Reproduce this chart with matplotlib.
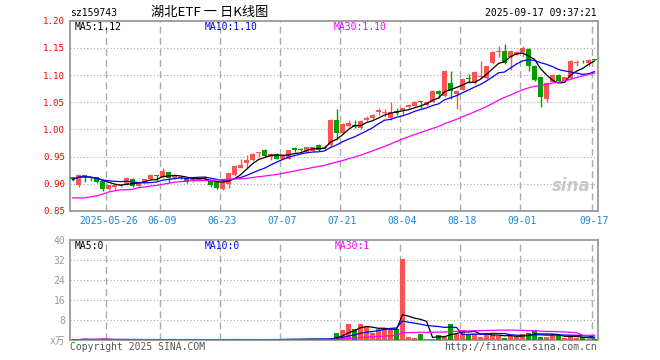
import numpy as np
import pandas as pd
import matplotlib
matplotlib.use("Agg")
import matplotlib.pyplot as plt

# -------------------------
# Data
# -------------------------
dates = [d for d in pd.bdate_range("2025-05-16", "2025-09-17") if d != pd.Timestamp("2025-06-02")]

opens = [0.912, 0.898, 0.916, 0.911, 0.912, 0.905, 0.891, 0.894, 0.897, 0.899,
         0.909, 0.896, 0.904, 0.908, 0.915, 0.912, 0.921, 0.910, 0.913, 0.911,
         0.905, 0.907, 0.908, 0.907, 0.903, 0.891, 0.900, 0.916, 0.930, 0.939,
         0.943, 0.957, 0.963, 0.949, 0.955, 0.946, 0.946, 0.966, 0.962, 0.958,
         0.961, 0.972, 0.965, 0.972, 1.018, 0.993, 1.007, 1.008, 1.002, 1.017,
         1.021, 1.033, 1.030, 1.021, 1.034, 1.036, 1.041, 1.044, 1.051, 1.045,
         1.051, 1.071, 1.061, 1.085, 1.066, 1.073, 1.094, 1.085, 1.096, 1.094,
         1.122, 1.142, 1.145, 1.134, 1.137, 1.142, 1.148, 1.116, 1.096, 1.056,
         1.088, 1.101, 1.090, 1.094, 1.122, 1.125, 1.122, 1.128]
highs = [0.913, 0.918, 0.917, 0.912, 0.913, 0.906, 0.898, 0.899, 0.900, 0.912,
         0.910, 0.905, 0.909, 0.918, 0.916, 0.929, 0.922, 0.915, 0.915, 0.912,
         0.910, 0.911, 0.914, 0.908, 0.904, 0.905, 0.920, 0.934, 0.945, 0.953,
         0.956, 0.958, 0.964, 0.957, 0.957, 0.953, 0.963, 0.968, 0.965, 0.968,
         0.969, 0.973, 0.971, 1.019, 1.037, 1.011, 1.018, 1.017, 1.017, 1.025,
         1.028, 1.039, 1.037, 1.051, 1.039, 1.040, 1.046, 1.052, 1.053, 1.052,
         1.072, 1.072, 1.109, 1.108, 1.073, 1.094, 1.102, 1.107, 1.126, 1.117,
         1.144, 1.153, 1.157, 1.146, 1.145, 1.153, 1.149, 1.119, 1.097, 1.087,
         1.102, 1.102, 1.097, 1.127, 1.128, 1.128, 1.129, 1.129]
lows = [0.906, 0.895, 0.904, 0.905, 0.902, 0.887, 0.889, 0.889, 0.895, 0.898,
        0.894, 0.895, 0.903, 0.907, 0.906, 0.911, 0.901, 0.909, 0.909, 0.902,
        0.904, 0.906, 0.907, 0.895, 0.891, 0.889, 0.892, 0.915, 0.929, 0.929,
        0.942, 0.949, 0.950, 0.944, 0.945, 0.945, 0.945, 0.958, 0.960, 0.957,
        0.960, 0.961, 0.962, 0.968, 0.981, 0.992, 1.004, 1.002, 1.001, 1.015,
        1.020, 1.027, 1.023, 1.018, 1.027, 1.024, 1.040, 1.043, 1.040, 1.044,
        1.050, 1.058, 1.060, 1.056, 1.038, 1.072, 1.085, 1.084, 1.095, 1.092,
        1.121, 1.134, 1.121, 1.110, 1.136, 1.134, 1.108, 1.089, 1.042, 1.051,
        1.087, 1.089, 1.089, 1.093, 1.117, 1.122, 1.116, 1.127]
closes = [0.908, 0.916, 0.915, 0.910, 0.903, 0.890, 0.897, 0.898, 0.899, 0.911,
          0.896, 0.904, 0.908, 0.917, 0.914, 0.923, 0.910, 0.914, 0.911, 0.904,
          0.909, 0.910, 0.912, 0.897, 0.893, 0.904, 0.919, 0.933, 0.934, 0.943,
          0.955, 0.958, 0.951, 0.955, 0.946, 0.952, 0.962, 0.963, 0.962, 0.967,
          0.968, 0.962, 0.968, 1.018, 0.993, 1.010, 1.011, 1.005, 1.016, 1.021,
          1.027, 1.036, 1.033, 1.033, 1.031, 1.039, 1.045, 1.051, 1.050, 1.051,
          1.071, 1.066, 1.108, 1.070, 1.071, 1.093, 1.093, 1.106, 1.099, 1.116,
          1.143, 1.143, 1.122, 1.145, 1.143, 1.150, 1.116, 1.091, 1.059, 1.086,
          1.101, 1.090, 1.096, 1.126, 1.123, 1.125, 1.128, 1.128]
# volume in 万手
volumes = [0.2, 0.3, 0.6, 0.2, 0.3, 0.6, 0.2, 0.2, 0.2, 0.3,
           0.3, 0.2, 0.2, 0.3, 0.2, 0.3, 0.3, 0.2, 0.3, 0.3,
           0.2, 0.2, 0.2, 0.3, 0.3, 0.3, 0.3, 0.3, 0.2, 0.3,
           0.3, 0.2, 0.3, 0.3, 0.3, 0.4, 0.5, 0.4, 0.4, 0.5,
           0.5, 0.5, 0.5, 0.6, 2.9, 4.3, 6.7, 4.6, 6.7, 5.2,
           3.0, 4.5, 4.7, 5.1, 4.5, 32.5, 1.4, 0.9, 2.6, 0.5,
           0.5, 2.3, 1.3, 6.6, 2.7, 4.1, 2.0, 2.5, 1.4, 2.8,
           2.0, 1.8, 1.1, 1.7, 1.3, 2.6, 2.9, 4.3, 1.5, 1.3,
           2.4, 2.0, 0.9, 1.3, 1.0, 1.3, 0.6, 0.4]
# MA30 before 30 sessions of history are visible
ma30_head = [0.874, 0.874, 0.874, 0.876, 0.878, 0.881, 0.885, 0.887, 0.889, 0.889,
             0.890, 0.893, 0.894, 0.896, 0.897, 0.899, 0.901, 0.903, 0.904, 0.905,
             0.906, 0.906, 0.906, 0.906, 0.907, 0.908, 0.908, 0.909, 0.909]

tick_dates = ["2025-05-26", "2025-06-09", "2025-06-23", "2025-07-07", "2025-07-21",
              "2025-08-04", "2025-08-18", "2025-09-01", "2025-09-17"]
tick_labels = ["2025-05-26", "06-09", "06-23", "07-07", "07-21",
               "08-04", "08-18", "09-01", "09-17"]

df = pd.DataFrame({"open": opens, "high": highs, "low": lows,
                   "close": closes, "vol": volumes}, index=dates)
ma5 = df["close"].rolling(5, min_periods=1).mean().values
ma10 = df["close"].rolling(10, min_periods=1).mean().values
ma30 = df["close"].rolling(30).mean().values
ma30[:len(ma30_head)] = ma30_head
vma5 = df["vol"].rolling(5, min_periods=1).mean().values
vma10 = df["vol"].rolling(10, min_periods=1).mean().values
vma30 = df["vol"].rolling(30, min_periods=1).mean().values

x = np.arange(len(df))
up = df["close"].values > df["open"].values
RED, GREEN = "#ff5252", "#009f00"
colors = np.where(up, RED, GREEN)
tick_pos = [list(df.index).index(pd.Timestamp(d)) for d in tick_dates]

# -------------------------
# Figure (pixel layout of the 660x360 sina image)
# -------------------------
W, H = 660, 360
fig = plt.figure(figsize=(W / 100, H / 100), dpi=100)
MONO = "DejaVu Sans Mono"
CJK = ["Noto Sans CJK SC", "DejaVu Sans"]
GRID = "#aaaaaa"
FRAME = "#999999"

def box(left, top, right, bottom):
    return [left / W, 1 - bottom / H, (right - left) / W, (bottom - top) / H]

ax = fig.add_axes(box(70, 20.7, 598, 211))
axv = fig.add_axes(box(70, 240.3, 598, 340.3))
xlim = (-0.42, len(df) - 0.42)

# price panel
ax.vlines(x, df["low"], df["high"], colors=colors, lw=1, zorder=3)
body_lo = np.minimum(df["open"], df["close"])
body_h = np.maximum(np.abs(df["close"] - df["open"]), 0.0016)
ax.bar(x, body_h, bottom=body_lo, width=0.78, color=colors, lw=0, zorder=4)
ax.plot(x, ma5, color="black", lw=0.9, zorder=5)
ax.plot(x, ma10, color="#0000ff", lw=0.9, zorder=5)
ax.plot(x, ma30, color="#ff00ff", lw=0.9, zorder=5)
ax.set_ylim(0.85, 1.20)
ax.set_yticks(np.arange(0.85, 1.2001, 0.05))
ax.set_yticklabels([f"{v:.2f}" for v in np.arange(0.85, 1.2001, 0.05)],
                   color="#ff0000", fontsize=6.6, family=MONO)
for v in np.arange(0.90, 1.151, 0.05):
    ax.axhline(v, color=GRID, lw=0.8, ls=(0, (1, 2)), zorder=1)
ax.set_xticks(tick_pos)
ax.set_xticklabels(tick_labels, color="#1a86d8", fontsize=7, family=MONO)
ax.text(0.95, 0.13, "sina", transform=ax.transAxes, fontsize=12, color="#c8c8c8",
        style="italic", weight="bold", ha="center", va="center", zorder=2)

# volume panel
axv.bar(x, df["vol"], width=0.78, color=colors, lw=0, zorder=3)
axv.plot(x, vma5, color="black", lw=0.9, zorder=5)
axv.plot(x, vma10, color="#0000ff", lw=0.9, zorder=5)
axv.plot(x, vma30, color="#ff00ff", lw=0.9, zorder=5)
axv.set_ylim(0, 40)
axv.set_yticks([0, 8, 16, 24, 32, 40])
axv.set_yticklabels(["x万", "8", "16", "24", "32", "40"], color="#999999",
                    fontsize=7, family=[MONO, "Noto Sans CJK SC"])
for v in [8, 16, 24, 32]:
    axv.axhline(v, color=GRID, lw=0.8, ls=(0, (1, 2)), zorder=1)
axv.set_xticks([])

for a in (ax, axv):
    a.set_xlim(*xlim)
    for p in tick_pos:
        a.axvline(p - 0.35, color=GRID, lw=1, ls=(0, (5, 3)), zorder=1)
    for s in a.spines.values():
        s.set_color(FRAME)
        s.set_linewidth(1.3)
    a.tick_params(length=0, pad=3.5)

# -------------------------
# Header / footer texts
# -------------------------
def put(px, py, s, **kw):
    kw.setdefault("family", MONO)
    kw.setdefault("fontsize", 7)
    fig.text(px / W, 1 - py / H, s, va="center", **kw)

put(70, 13, "sz159743")
put(210, 12.5, "湖北ETF 一 日K线图", ha="center", family=CJK, fontsize=9.5)
put(597, 13, "2025-09-17 09:37:21", ha="right")
put(75, 26.5, "MA5:1.12")
put(205, 26.5, "MA10:1.10", color="#0000ff")
put(334, 26.5, "MA30:1.10", color="#ff00ff")
put(75, 246, "MA5:0")
put(205, 246, "MA10:0", color="#0000ff")
put(335, 246, "MA30:1", color="#ff00ff")
put(70, 347, "Copyright 2025 SINA.COM", color="#555555")
put(597, 347, "http://finance.sina.com.cn", ha="right", color="#555555")

fig.savefig("out.png", dpi=100)
